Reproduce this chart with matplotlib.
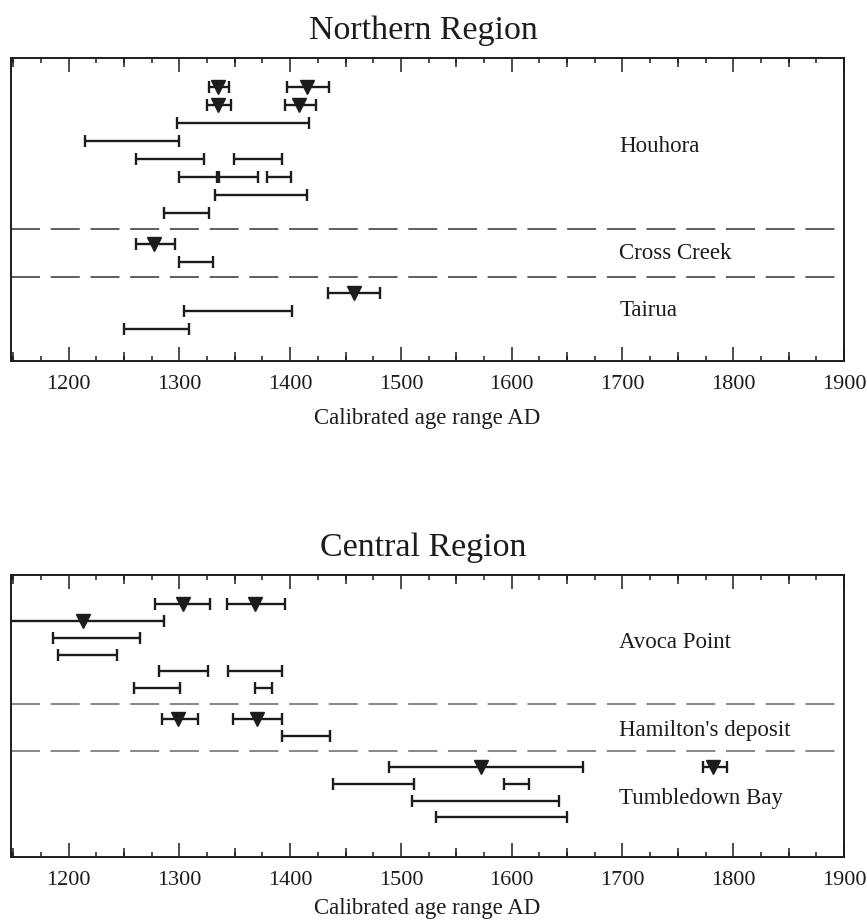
import matplotlib.pyplot as plt
from matplotlib.ticker import MultipleLocator
from matplotlib.lines import TICKUP, TICKDOWN

plt.rcParams['font.family'] = ['Liberation Serif', 'DejaVu Serif']

# each entry: (row within site, start AD, end AD, marked age or None)
houhora = [
    (0, 1327, 1345, 1335), (0, 1397, 1435, 1415),
    (1, 1325, 1347, 1335), (1, 1395, 1423, 1408),
    (2, 1298, 1417, None),
    (3, 1215, 1300, None),
    (4, 1261, 1322, None), (4, 1349, 1393, None),
    (5, 1300, 1334, None), (5, 1336, 1371, None), (5, 1379, 1401, None),
    (6, 1332, 1415, None),
    (7, 1286, 1327, None),
]
cross_creek = [
    (0, 1261, 1296, 1277),
    (1, 1300, 1330, None),
]
tairua = [
    (0, 1434, 1481, 1458),
    (1, 1304, 1402, None),
    (2, 1250, 1309, None),
]

avoca_point = [
    (0, 1278, 1328, 1303), (0, 1343, 1395, 1368),
    (1, 1140, 1286, 1213),
    (2, 1186, 1264, None),
    (3, 1190, 1244, None),
    (4, 1282, 1326, None), (4, 1344, 1393, None),
    (5, 1259, 1301, None), (5, 1368, 1384, None),
]
hamiltons = [
    (0, 1284, 1317, 1299), (0, 1348, 1393, 1370),
    (1, 1393, 1436, None),
]
tumbledown = [
    (0, 1489, 1664, 1572), (0, 1773, 1794, 1782),
    (1, 1439, 1512, None), (1, 1593, 1616, None),
    (2, 1510, 1643, None),
    (3, 1532, 1650, None),
]

north_names = ['Houhora', 'Cross Creek', 'Tairua']
central_names = ['Avoca Point', "Hamilton's deposit", 'Tumbledown Bay']

ink = '#1c1c1c'


def draw_panel(ax, sites, names, title, gap, ylims, dash_color, label_shift, xpad):
    offset = 0
    mids = []
    for k, site in enumerate(sites):
        nrows = max(r[0] for r in site) + 1
        for row, s, e, m in site:
            y = offset + row
            ax.hlines(y, s, e, color=ink, lw=1.7)
            ax.plot([s, e], [y, y], ls='none', marker='|', ms=8.5, mew=1.7, color=ink)
            if m is not None:
                ax.plot(m, y, ls='none', marker='v', ms=9.5, color=ink)
        mids.append(offset + (nrows - 1) / 2)
        last = offset + nrows - 1
        offset = offset + nrows + gap
        if k < len(sites) - 1:
            ax.axhline((last + offset) / 2, color=dash_color, lw=1.1, dashes=(19, 7))
    for name, y, dy in zip(names, mids, label_shift):
        ax.text(1697, y + dy, name, ha='left', va='center', fontsize=16.5, color=ink)

    ax.set_xlim(1148, 1900)
    ax.set_ylim(*ylims)
    ax.set_yticks([])
    ax.xaxis.set_major_locator(MultipleLocator(100))
    ax.xaxis.set_minor_locator(MultipleLocator(25))
    ax.tick_params(which='both', direction='in', top=True, bottom=True,
                   width=1.1, color=ink, labelsize=16, labelcolor=ink, pad=10.3)
    ax.tick_params(which='major', length=10)
    ax.tick_params(which='minor', length=3.6)
    # medium ticks every 100 years offset by 50
    mid_ticks = list(range(1150, 1900, 100))
    ax.plot(mid_ticks, [0] * len(mid_ticks), transform=ax.get_xaxis_transform(),
            ls='none', marker=TICKUP, ms=6.5, mew=1.1, color=ink, clip_on=False)
    ax.plot(mid_ticks, [1] * len(mid_ticks), transform=ax.get_xaxis_transform(),
            ls='none', marker=TICKDOWN, ms=6.5, mew=1.1, color=ink, clip_on=False)
    for sp in ax.spines.values():
        sp.set_linewidth(1.4)
        sp.set_color(ink)
    ax.set_xlabel('Calibrated age range AD', fontsize=16.5, color=ink, labelpad=xpad)
    ax.set_title(title, fontsize=24.5, color=ink, pad=13.5, x=0.495)


fig = plt.figure(figsize=(8.67, 9.21), dpi=100)
ax1 = fig.add_axes([0.0127, 0.608, 0.9608, 0.329])
ax2 = fig.add_axes([0.0127, 0.0695, 0.9608, 0.306])

draw_panel(ax1, [houhora, cross_creek, tairua], north_names, 'Northern Region',
           0.7, (15.2, -1.63), '#333333', (-0.2, 0.0, 0.0), 9.6)
draw_panel(ax2, [avoca_point, hamiltons, tumbledown], central_names, 'Central Region',
           0.85, (15.06, -1.73), '#666666', (-0.2, 0.15, 0.35), 5.5)

fig.savefig('out.png', dpi=100)
